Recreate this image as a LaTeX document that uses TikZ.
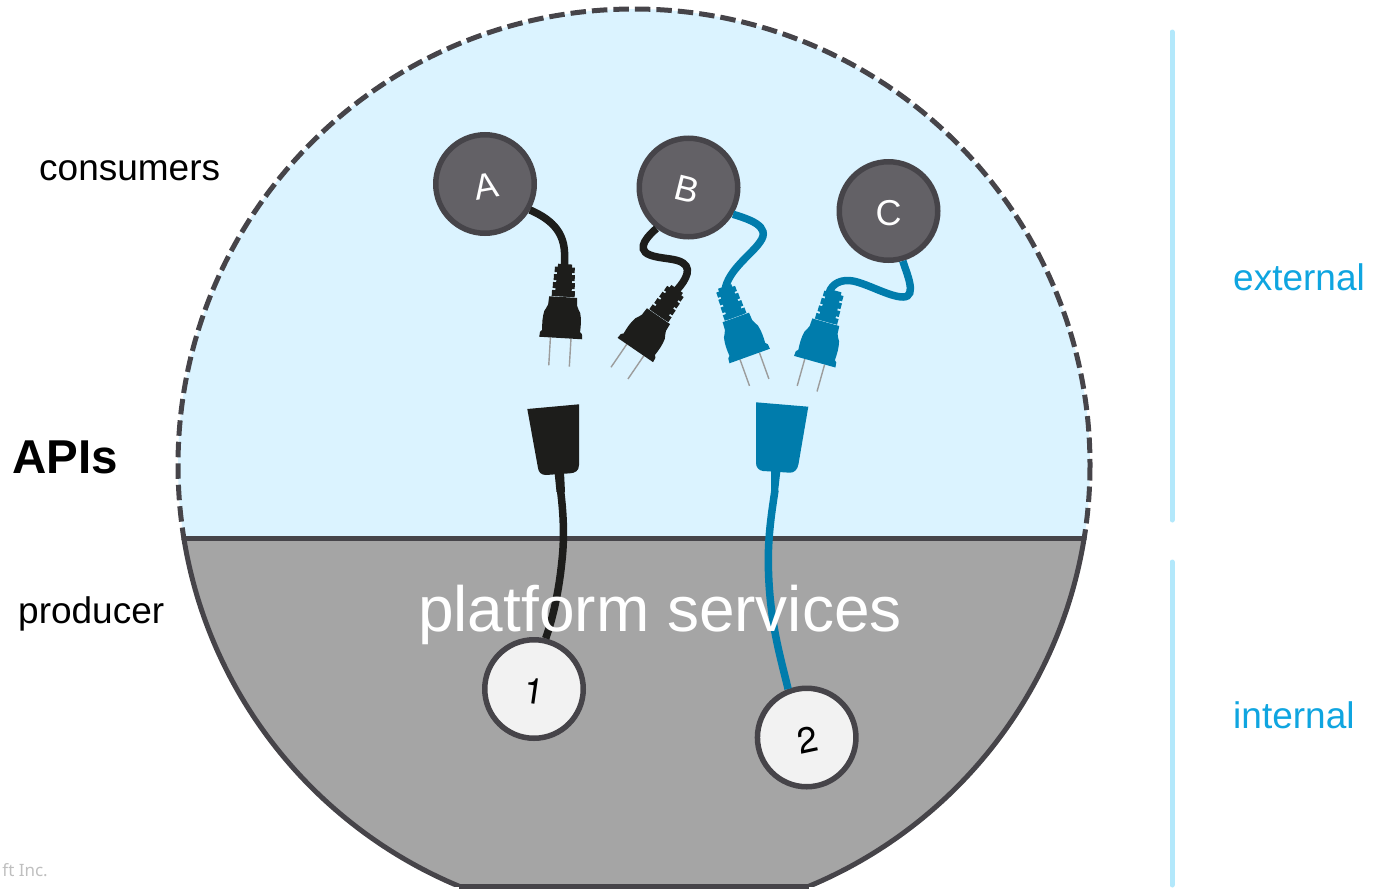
\documentclass[tikz,border=0pt]{standalone}
\usepackage{fontspec}
\setmainfont{Liberation Sans}
\newfontfamily\smallfont{Noto Sans}
\newfontfamily\heros{TeX Gyre Heros}
\definecolor{skyfill}{HTML}{DBF3FF}
\definecolor{greyfill}{HTML}{A5A5A5}
\definecolor{rimcol}{HTML}{464449}
\definecolor{consfill}{HTML}{636166}
\definecolor{prodfill}{HTML}{F2F2F2}
\definecolor{blackcord}{HTML}{1D1D1B}
\definecolor{bluecord}{HTML}{007CAC}
\definecolor{barcol}{HTML}{B3E8FB}
\definecolor{labelblue}{HTML}{0FA5E0}
\definecolor{prongcol}{HTML}{9C9C9C}
\tikzset{
  consumer/.style={circle,draw=rimcol,fill=consfill,line width=5.5pt,minimum size=98.5pt,inner sep=0pt},
  producerc/.style={circle,draw=rimcol,fill=prodfill,line width=5.5pt,minimum size=98.5pt,inner sep=0pt},
  cord/.style={line width=7.5pt},
  sidelabel/.style={anchor=base west,inner sep=0pt,font=\fontsize{37}{37}\selectfont},
  sidebar/.style={draw=barcol,line width=5pt,line cap=round},
  lettertext/.style={font=\fontsize{36}{36}\selectfont,inner sep=0pt},
  plug/.pic={
    \fill[prongcol] (-11,0) rectangle (-9.6,28) (9.6,0) rectangle (11,28);
    \fill (-21.5,0) -- (21.5,0) -- (21,-5) -- (19,-7) .. controls (19.5,-14) and (19.5,-20) .. (18,-26)
      .. controls (17,-29) and (15,-30) .. (14.5,-33) -- (14,-41) -- (-14,-41) -- (-14.5,-33)
      .. controls (-15,-30) and (-17,-29) .. (-18,-26) .. controls (-19.5,-20) and (-19.5,-14) .. (-19,-7)
      -- (-21,-5) -- cycle;
    \fill (-8.5,-41.6) -- (8.5,-41.6) -- (7,-74) -- (-7,-74) -- cycle;
    \fill (-11.5,-41.6) rectangle (11.5,-47.5) (-11,-49.5) rectangle (11,-55.5) (-10.5,-57.5) rectangle (10.5,-63.5) (-10,-65.5) rectangle (10,-71);
  },
}
\begin{document}
\begin{tikzpicture}[x=1pt,y=-1pt]
\useasboundingbox (0,0) rectangle (1375,889);
% circle parts
\begin{scope}
  \clip (0,0) rectangle (1375,539);
  \fill[skyfill] (634,465) circle[radius=456];
  \draw[rimcol,line width=5pt,dash pattern=on 15.5pt off 6pt] (634,465) circle[radius=456];
\end{scope}
\coordinate (ll) at (184,538.5);
\coordinate (lr) at (1084,538.5);
\begin{scope}
  \clip (0,539) rectangle (1375,886);
  \fill[greyfill] (634,465) circle[radius=456];
  \draw[rimcol,line width=5pt] (634,465) circle[radius=456];
\end{scope}
\coordinate (bl) at (459,886.5);
\coordinate (br) at (809,886.5);
\draw[rimcol,line width=5pt] (bl) -- (br);
\draw[rimcol,line width=5pt,line cap=round] (ll) -- (lr);
% side bars
\coordinate (b1t) at (1172,32);
\coordinate (b1b) at (1172,520);
\coordinate (b2t) at (1172,562);
\coordinate (b2b) at (1172,885);
\draw[sidebar] (b1t) -- (b1b);
\draw[sidebar] (b2t) -- (b2b);
% plug ends
\coordinate (pa) at (564.5,270);
\coordinate (pb) at (674,293);
\coordinate (pc) at (725,290);
\coordinate (pd) at (829,293);
\coordinate (sa) at (560.5,490);
\coordinate (sb) at (775,490);
% nodes
\node[consumer] (A) at (485,184) {};
\node[consumer] (B) at (688.5,187.5) {};
\node[consumer] (C) at (888.5,211) {};
\node[producerc] (P1) at (534,689) {};
\node[producerc] (P2) at (806.7,737.5) {};
% cords
\draw[cord,blackcord] (A.-30) .. controls (548,218) and (566,230) .. (564.5,258) -- (pa);
\draw[cord,blackcord] (B.-128) .. controls (650,234) and (634,249) .. (650,255) .. controls (660,259) and (676,258) .. (683,263) .. controls (694,270) and (682,285) .. (pb);
\draw[cord,bluecord] (B.-31) .. controls (748,219) and (772,226) .. (760,242) .. controls (752,254) and (728,270) .. (pc);
\draw[cord,bluecord] (C.-74.5) .. controls (906,272) and (918,297) .. (903,297) .. controls (890,297) and (868,284) .. (853,281) .. controls (842,279) and (832,283) .. (pd);
\draw[cord,blackcord] (sa) .. controls (563,510) and (565,535) .. (561.7,563) .. controls (559,590) and (553,618) .. (P1.77);
\draw[cord,bluecord] (sb) .. controls (772,510) and (768,535) .. (768.3,563) .. controls (769,620) and (780,655) .. (P2.111);
% sockets
\fill[blackcord] (527.3,409) -- (579,404.3) -- (579,465) .. controls (579,471) and (575,473) .. (570,473.3) -- (546,475) .. controls (541,475) and (538.5,472) .. (538,468) -- cycle;
\fill[blackcord] (554.5,472) -- (564,472) -- (565,492) -- (556.5,492) -- cycle;
\fill[bluecord] (756,402.3) -- (808.3,406.7) -- (798.5,464) .. controls (797.5,470) and (794,472.7) .. (790,472.7) -- (763,471) .. controls (758.5,470.5) and (756,467) .. (756,463) -- cycle;
\fill[bluecord] (771,470) -- (780.5,470) -- (778,492) -- (771,492) -- cycle;
% plugs
\pic[blackcord,rotate=-3.4] at (560.7,338) {plug};
\pic[blackcord,rotate=-34.4] at (635.3,350) {plug};
\pic[bluecord,rotate=19.8] at (749.7,356) {plug};
\pic[bluecord,rotate=-15.7] at (814.7,361.7) {plug};
% node texts
\node[text=white,rotate=10,lettertext] (tA) at (486,186) {A};
\node[text=white,rotate=-14,lettertext] (tB) at (687.5,189.5) {B};
\node[text=white,lettertext] (tC) at (888.5,213) {C};
\node[text=black,rotate=-8,lettertext,font=\heros\fontsize{36}{36}\selectfont] (t1) at (534,691) {1};
\node[text=black,rotate=12,lettertext,font=\heros\fontsize{36}{36}\selectfont] (t2) at (807.5,740) {2};
% labels
\node[anchor=base west,inner sep=0pt,text=white,font=\fontsize{64}{64}\selectfont] (ps) at (418,631) {platform services};
\node[sidelabel] (cons) at (39,180) {consumers};
\node[sidelabel] (prod) at (18,623) {producer};
\node[anchor=base west,inner sep=0pt,font=\bfseries\fontsize{47.5}{48}\selectfont] (apis) at (12,473) {APIs};
\node[sidelabel,text=labelblue] (ext) at (1233,290) {external};
\node[sidelabel,text=labelblue] (int) at (1233,728) {internal};
\node[anchor=base east,inner sep=0pt,text=black!25,font=\smallfont\fontsize{17}{17}\selectfont] (corp) at (48,876) {ft Inc.};
\end{tikzpicture}
\end{document}
